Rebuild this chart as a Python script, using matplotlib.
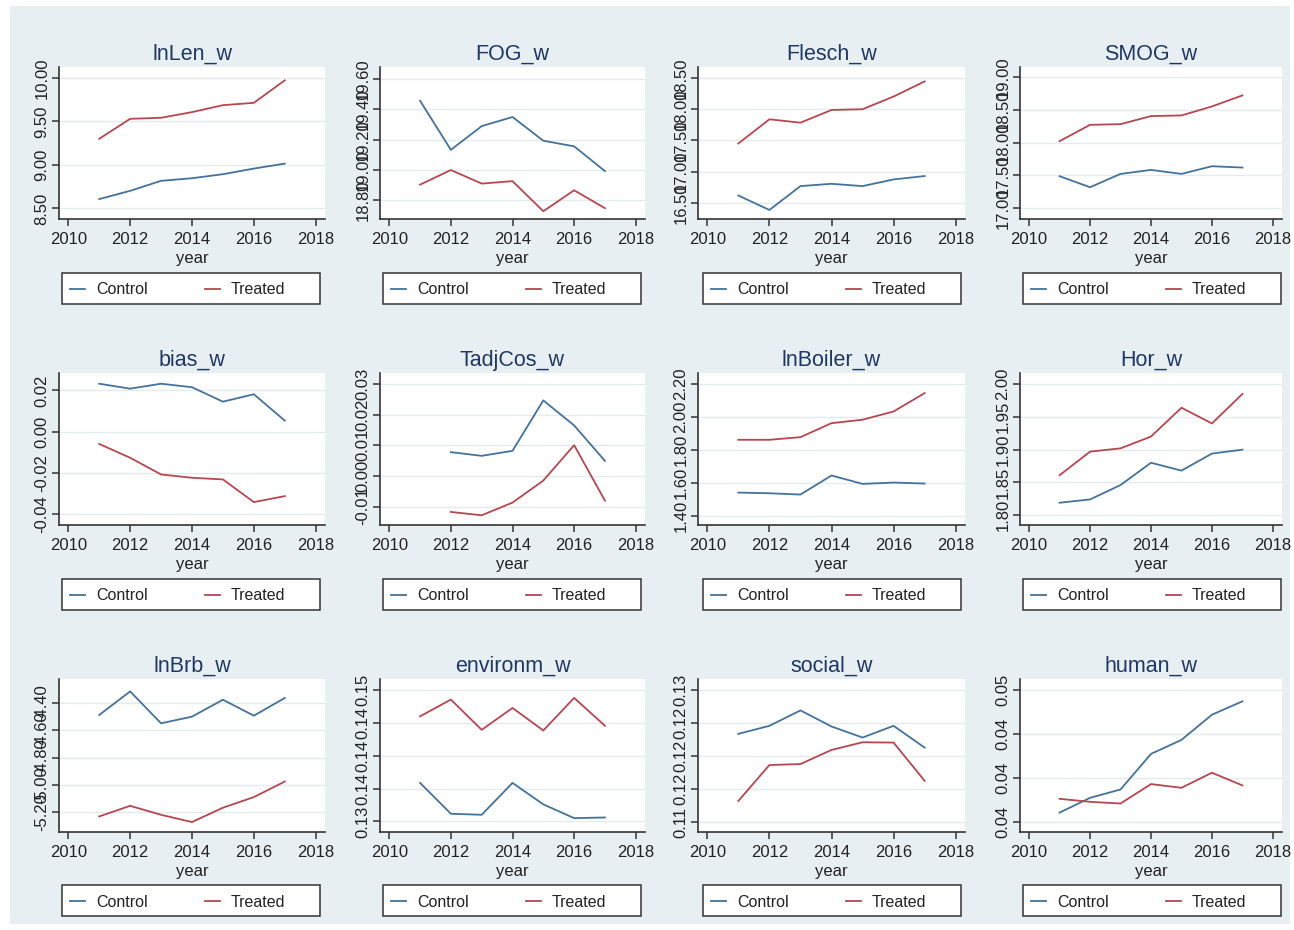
import matplotlib.pyplot as plt
from matplotlib.patches import Rectangle

plt.rcParams['font.family'] = ['Liberation Sans', 'DejaVu Sans']

W, H = 1294, 930

years = [2011, 2012, 2013, 2014, 2015, 2016, 2017]
years_tadj = [2012, 2013, 2014, 2015, 2016, 2017]

# values
lnLen_control = [8.607, 8.702, 8.817, 8.847, 8.893, 8.958, 9.015]
lnLen_treated = [9.300, 9.530, 9.542, 9.607, 9.687, 9.714, 9.973]
fog_control = [19.456, 19.133, 19.289, 19.349, 19.193, 19.156, 18.993]
fog_treated = [18.904, 19.000, 18.911, 18.927, 18.729, 18.867, 18.749]
flesch_control = [16.618, 16.387, 16.769, 16.806, 16.769, 16.876, 16.930]
flesch_treated = [17.452, 17.839, 17.785, 17.989, 18.000, 18.204, 18.446]
smog_control = [17.489, 17.321, 17.524, 17.585, 17.524, 17.641, 17.621]
smog_treated = [18.023, 18.272, 18.282, 18.405, 18.415, 18.552, 18.720]
bias_control = [0.0232, 0.0208, 0.0232, 0.0215, 0.0145, 0.0181, 0.0053]
bias_treated = [-0.0060, -0.0127, -0.0208, -0.0224, -0.0232, -0.0342, -0.0313]
tadj_control = [0.00777, 0.00657, 0.00820, 0.02466, 0.01649, 0.00493]
tadj_treated = [-0.01174, -0.01283, -0.00869, -0.00150, 0.01005, -0.00804]
boiler_control = [1.540, 1.536, 1.528, 1.644, 1.593, 1.601, 1.595]
boiler_treated = [1.861, 1.861, 1.877, 1.962, 1.983, 2.033, 2.145]
hor_control = [1.819, 1.824, 1.846, 1.880, 1.868, 1.894, 1.900]
hor_treated = [1.861, 1.897, 1.902, 1.920, 1.964, 1.940, 1.985]
brb_control = [-4.488, -4.315, -4.549, -4.500, -4.376, -4.493, -4.363]
brb_treated = [-5.232, -5.154, -5.220, -5.273, -5.168, -5.090, -4.976]
env_control = [0.13588, 0.13118, 0.13102, 0.13588, 0.13261, 0.13051, 0.13061]
env_treated = [0.14601, 0.14857, 0.14396, 0.14729, 0.14386, 0.14882, 0.14458]
social_control = [0.12332, 0.12453, 0.12686, 0.12443, 0.12276, 0.12453, 0.12124]
social_treated = [0.11319, 0.11861, 0.11876, 0.12089, 0.12205, 0.12200, 0.11623]
human_control = [0.03606, 0.03773, 0.03868, 0.04271, 0.04430, 0.04715, 0.04867]
human_treated = [0.03762, 0.03728, 0.03709, 0.03929, 0.03887, 0.04058, 0.03914]

titles = ['lnLen_w', 'FOG_w', 'Flesch_w', 'SMOG_w',
          'bias_w', 'TadjCos_w', 'lnBoiler_w', 'Hor_w',
          'lnBrb_w', 'environm_w', 'social_w', 'human_w']

yticks = [
    [8.5, 9.0, 9.5, 10.0],
    [18.8, 19.0, 19.2, 19.4, 19.6],
    [16.5, 17.0, 17.5, 18.0, 18.5],
    [17.0, 17.5, 18.0, 18.5, 19.0],
    [-0.04, -0.02, 0.0, 0.02],
    [-0.01, 0.0, 0.01, 0.02, 0.03],
    [1.4, 1.6, 1.8, 2.0, 2.2],
    [1.80, 1.85, 1.90, 1.95, 2.00],
    [-5.2, -5.0, -4.8, -4.6, -4.4],
    [0.130, 0.135, 0.140, 0.145, 0.150],
    [0.110, 0.115, 0.120, 0.125, 0.130],
    [0.035, 0.040, 0.045, 0.050],
]
ytick_labels = [
    ['8.50', '9.00', '9.50', '10.00'],
    ['18.80', '19.00', '19.20', '19.40', '19.60'],
    ['16.50', '17.00', '17.50', '18.00', '18.50'],
    ['17.00', '17.50', '18.00', '18.50', '19.00'],
    ['-0.04', '-0.02', '0.00', '0.02'],
    ['-0.01', '0.00', '0.01', '0.02', '0.03'],
    ['1.40', '1.60', '1.80', '2.00', '2.20'],
    ['1.80', '1.85', '1.90', '1.95', '2.00'],
    ['-5.20', '-5.00', '-4.80', '-4.60', '-4.40'],
    ['0.13', '0.14', '0.14', '0.14', '0.15'],
    ['0.11', '0.12', '0.12', '0.12', '0.13'],
    ['0.04', '0.04', '0.04', '0.05'],
]
ylims = [(8.378, 10.126), (18.678, 19.678), (16.242, 18.677), (16.837, 19.153),
         (-0.0453, 0.0284), (-0.0160, 0.0336), (1.343, 2.267), (1.785, 2.017),
         (-5.346, -4.224), (0.1284, 0.1517), (0.1085, 0.1316), (0.03386, 0.0512)]

series = [
    (years, lnLen_control, lnLen_treated),
    (years, fog_control, fog_treated),
    (years, flesch_control, flesch_treated),
    (years, smog_control, smog_treated),
    (years, bias_control, bias_treated),
    (years_tadj, tadj_control, tadj_treated),
    (years, boiler_control, boiler_treated),
    (years, hor_control, hor_treated),
    (years, brb_control, brb_treated),
    (years, env_control, env_treated),
    (years, social_control, social_treated),
    (years, human_control, human_treated),
]

BG = '#e7eff2'
GRID = '#e3ebee'
BLUE = '#44729c'
RED = '#b6464f'
TITLE = '#1f3762'
AXC = '#333333'
TXT = '#222222'

col_left = [59, 380, 698, 1020]
col_right = [325, 645, 965, 1282]
row_top = [67, 373, 679]
row_bottom = [219, 525, 832]
leg_left = [62, 383, 703, 1023]
leg_w = 258
leg_top = [273, 579, 885]
leg_h = 31

fig = plt.figure(figsize=(W / 100, H / 100), dpi=100)
fig.patch.set_facecolor('white')
fig.patches.append(Rectangle((10 / W, 1 - 924 / H), 1280 / W, 918 / H,
                             transform=fig.transFigure, facecolor=BG,
                             edgecolor='none', zorder=-10))

for i, (x, ctrl, trt) in enumerate(series):
    r, c = divmod(i, 4)
    l, rr = col_left[c], col_right[c]
    t, b = row_top[r], row_bottom[r]
    ax = fig.add_axes([l / W, 1 - b / H, (rr - l) / W, (b - t) / H])
    ax.set_facecolor('white')
    h1, = ax.plot(x, ctrl, color=BLUE, lw=1.3)
    h2, = ax.plot(x, trt, color=RED, lw=1.3)
    ax.set_xlim(2009.7, 2018.3)
    ax.set_xticks(range(2010, 2019, 2))
    ax.set_ylim(*ylims[i])
    ax.set_yticks(yticks[i])
    ax.set_yticklabels(ytick_labels[i])
    ax.yaxis.grid(True, color=GRID, lw=1.0)
    ax.set_axisbelow(True)
    for s in ['top', 'right']:
        ax.spines[s].set_visible(False)
    for s in ['left', 'bottom']:
        ax.spines[s].set_color(AXC)
        ax.spines[s].set_linewidth(1.2)
    ax.tick_params(direction='out', length=5, width=1.1, color=AXC,
                   labelsize=12, labelcolor=TXT)
    ax.tick_params(axis='x', pad=4)
    ax.tick_params(axis='y', labelrotation=90, pad=2)
    for lab in ax.get_yticklabels():
        lab.set_va('center')
    ax.set_title(titles[i], fontsize=15.5, color=TITLE, pad=5)
    ax.set_xlabel('year', fontsize=12, labelpad=3, color=TXT)

    x0, y0 = leg_left[c], leg_top[r]
    fig.patches.append(Rectangle((x0 / W, 1 - (y0 + leg_h) / H), leg_w / W, leg_h / H,
                                 transform=fig.transFigure, facecolor='white',
                                 edgecolor=AXC, lw=1.1, zorder=-5))
    leg = ax.legend([h1, h2], ['Control', 'Treated'], loc='center left',
                    bbox_to_anchor=((x0 + 8) / W, 1 - (y0 + leg_h / 2 + 1.5) / H),
                    bbox_transform=fig.transFigure, frameon=False, ncol=2,
                    fontsize=11.5, handlelength=0.95, handletextpad=0.7,
                    columnspacing=3.55, borderpad=0, borderaxespad=0)
    for txt in leg.get_texts():
        txt.set_color(TXT)

fig.savefig('out.png', dpi=100, facecolor=fig.get_facecolor())
